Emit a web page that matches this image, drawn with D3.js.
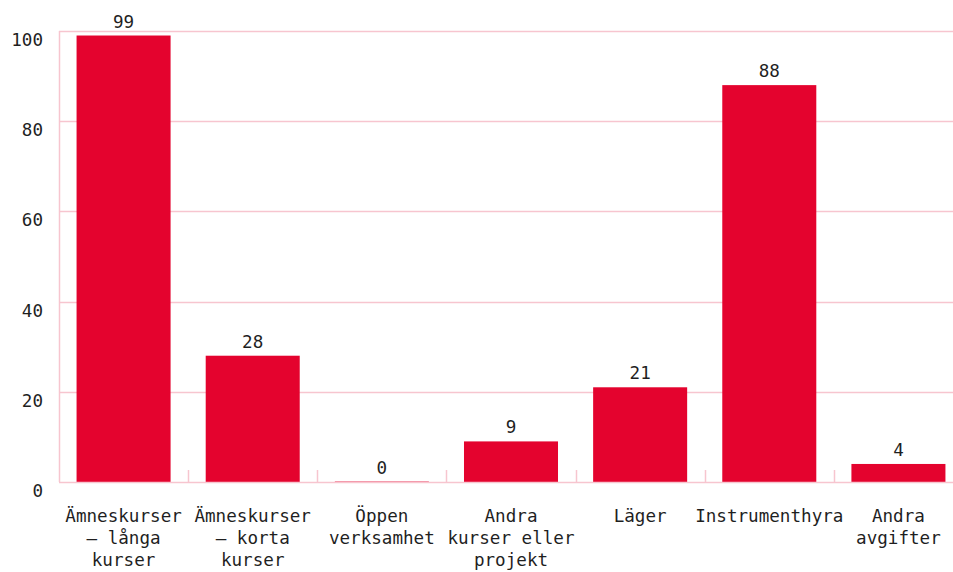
<!DOCTYPE html>
<html>
<head>
<meta charset="utf-8">
<script src="https://cdn.jsdelivr.net/npm/d3@7"></script>
<style>
  body { margin: 0; background: #fff; }
  svg { display: block; font-family: "DejaVu Sans Mono", "Liberation Mono", monospace; }
</style>
</head>
<body>
<div id="chart"></div>
<script>
// Category labels (line breaks as in the original)
const categories = [
  "Ämneskurser\n– långa\nkurser",
  "Ämneskurser\n– korta\nkurser",
  "Öppen\nverksamhet",
  "Andra\nkurser eller\nprojekt",
  "Läger",
  "Instrumenthyra",
  "Andra\navgifter"
];
const values = [99, 28, 0, 9, 21, 88, 4];
const yTicks = [0, 20, 40, 60, 80, 100];

const width = 953, height = 572;
const margin = { top: 31, right: -10, bottom: 90, left: 59 };
const red = "#e4032e";
const pink = "#f7c5cf";
const textColor = "#1f1f1f";
const fontSize = "17.6px";

const svg = d3.select("#chart")
  .append("svg")
  .attr("width", width)
  .attr("height", height);

const x = d3.scaleBand()
  .domain(categories)
  .range([margin.left, width - margin.right])
  .paddingInner(0.272)
  .paddingOuter(0.136);

const y = d3.scaleLinear()
  .domain([0, 100])
  .range([height - margin.bottom, margin.top]);

const baseY = y(0);

// gridlines
svg.append("g")
  .selectAll("line")
  .data(yTicks.filter(t => t > 0))
  .join("line")
  .attr("x1", margin.left)
  .attr("x2", width)
  .attr("y1", d => Math.round(y(d)) + 0.5)
  .attr("y2", d => Math.round(y(d)) + 0.5)
  .attr("stroke", pink)
  .attr("stroke-width", 1.5);

// y labels
svg.append("g")
  .selectAll("text")
  .data(yTicks)
  .join("text")
  .attr("x", 43)
  .attr("y", d => y(d) + 15)
  .attr("text-anchor", "end")
  .attr("fill", textColor)
  .style("font-size", fontSize)
  .text(d => d);

// left axis line
svg.append("line")
  .attr("x1", margin.left + 0.5)
  .attr("x2", margin.left + 0.5)
  .attr("y1", y(100))
  .attr("y2", baseY)
  .attr("stroke", pink)
  .attr("stroke-width", 1.5);

// category separator ticks
const step = x.step();
svg.append("g")
  .selectAll("line")
  .data(categories.slice(1))
  .join("line")
  .attr("x1", d => Math.round(x(d) - step * x.paddingInner() / 2) + 0.5)
  .attr("x2", d => Math.round(x(d) - step * x.paddingInner() / 2) + 0.5)
  .attr("y1", baseY - 12)
  .attr("y2", baseY)
  .attr("stroke", pink)
  .attr("stroke-width", 1.5);

// bars
svg.append("g")
  .selectAll("rect")
  .data(values)
  .join("rect")
  .attr("x", (d, i) => x(categories[i]))
  .attr("width", x.bandwidth())
  .attr("y", d => d === 0 ? baseY - 1 : y(d))
  .attr("height", d => d === 0 ? 1.5 : baseY - y(d))
  .attr("fill", red)
  .attr("fill-opacity", d => d === 0 ? 0.45 : 1);

// baseline
svg.append("line")
  .attr("x1", margin.left)
  .attr("x2", width)
  .attr("y1", baseY + 0.5)
  .attr("y2", baseY + 0.5)
  .attr("stroke", pink)
  .attr("stroke-width", 1.5);

// value labels
svg.append("g")
  .selectAll("text")
  .data(values)
  .join("text")
  .attr("x", (d, i) => x(categories[i]) + x.bandwidth() / 2)
  .attr("y", d => y(d) - 8)
  .attr("text-anchor", "middle")
  .attr("fill", textColor)
  .style("font-size", fontSize)
  .text(d => d);

// category labels
const cat = svg.append("g")
  .selectAll("text")
  .data(categories)
  .join("text")
  .attr("text-anchor", "middle")
  .attr("fill", textColor)
  .style("font-size", fontSize);

cat.each(function (d) {
  const t = d3.select(this);
  const cx = x(d) + x.bandwidth() / 2;
  d.split("\n").forEach((line, i) => {
    t.append("tspan")
      .attr("x", cx)
      .attr("y", 522 + i * 22)
      .text(line);
  });
});
</script>
</body>
</html>
